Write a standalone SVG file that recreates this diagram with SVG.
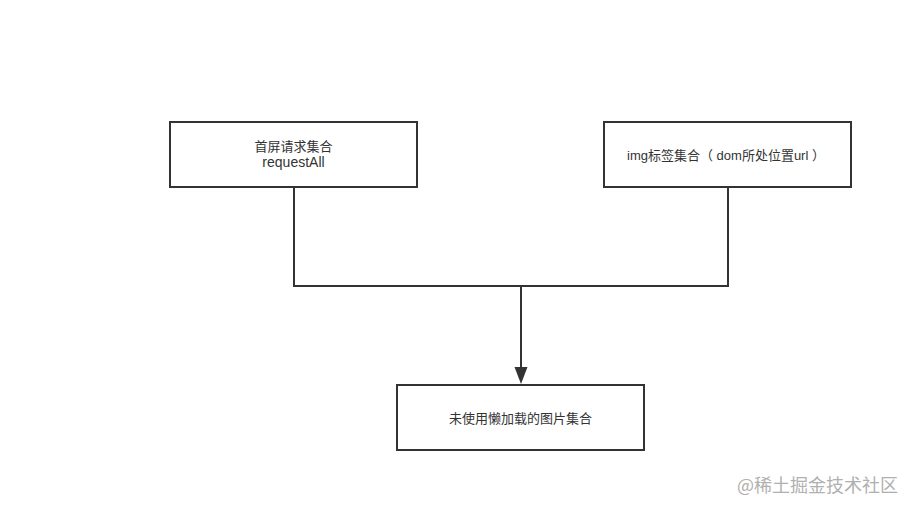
<svg xmlns="http://www.w3.org/2000/svg" width="913" height="512" viewBox="0 0 913 512">
<style>
.box{fill:#fff;stroke:#333;stroke-width:2}
.t{font-family:"Liberation Sans","Noto Sans CJK SC",sans-serif;font-size:13px;fill:#333;text-anchor:middle}
.c{fill:none;stroke:#333;stroke-width:2}
.wm{font-family:"Noto Sans CJK SC",sans-serif;font-size:18px;fill:#b0b0b0}
</style>
<rect width="913" height="512" fill="#fff"/>
<g id="connectors">
<path class="c" d="M294,187 V286 H728 V187"/>
<path class="c" d="M521,286 V368"/>
<path d="M514.5,367 L527.5,367 L521,384 Z" fill="#333"/>
</g>
<g id="n1">
<rect class="box" x="170" y="122" width="247" height="65"/>
<text class="t" x="293.5" y="151">首屏请求集合</text>
<text class="t" x="293.5" y="167" style="font-size:14px">requestAll</text>
</g>
<g id="n2">
<rect class="box" x="604" y="122" width="247" height="65"/>
<text class="t" x="726" y="160">img标签集合（ dom所处位置url ）</text>
</g>
<g id="n3">
<rect class="box" x="397" y="385" width="247" height="65"/>
<text class="t" x="520.5" y="423">未使用懒加载的图片集合</text>
</g>
<text class="wm" x="737" y="492">@稀土掘金技术社区</text>
</svg>
